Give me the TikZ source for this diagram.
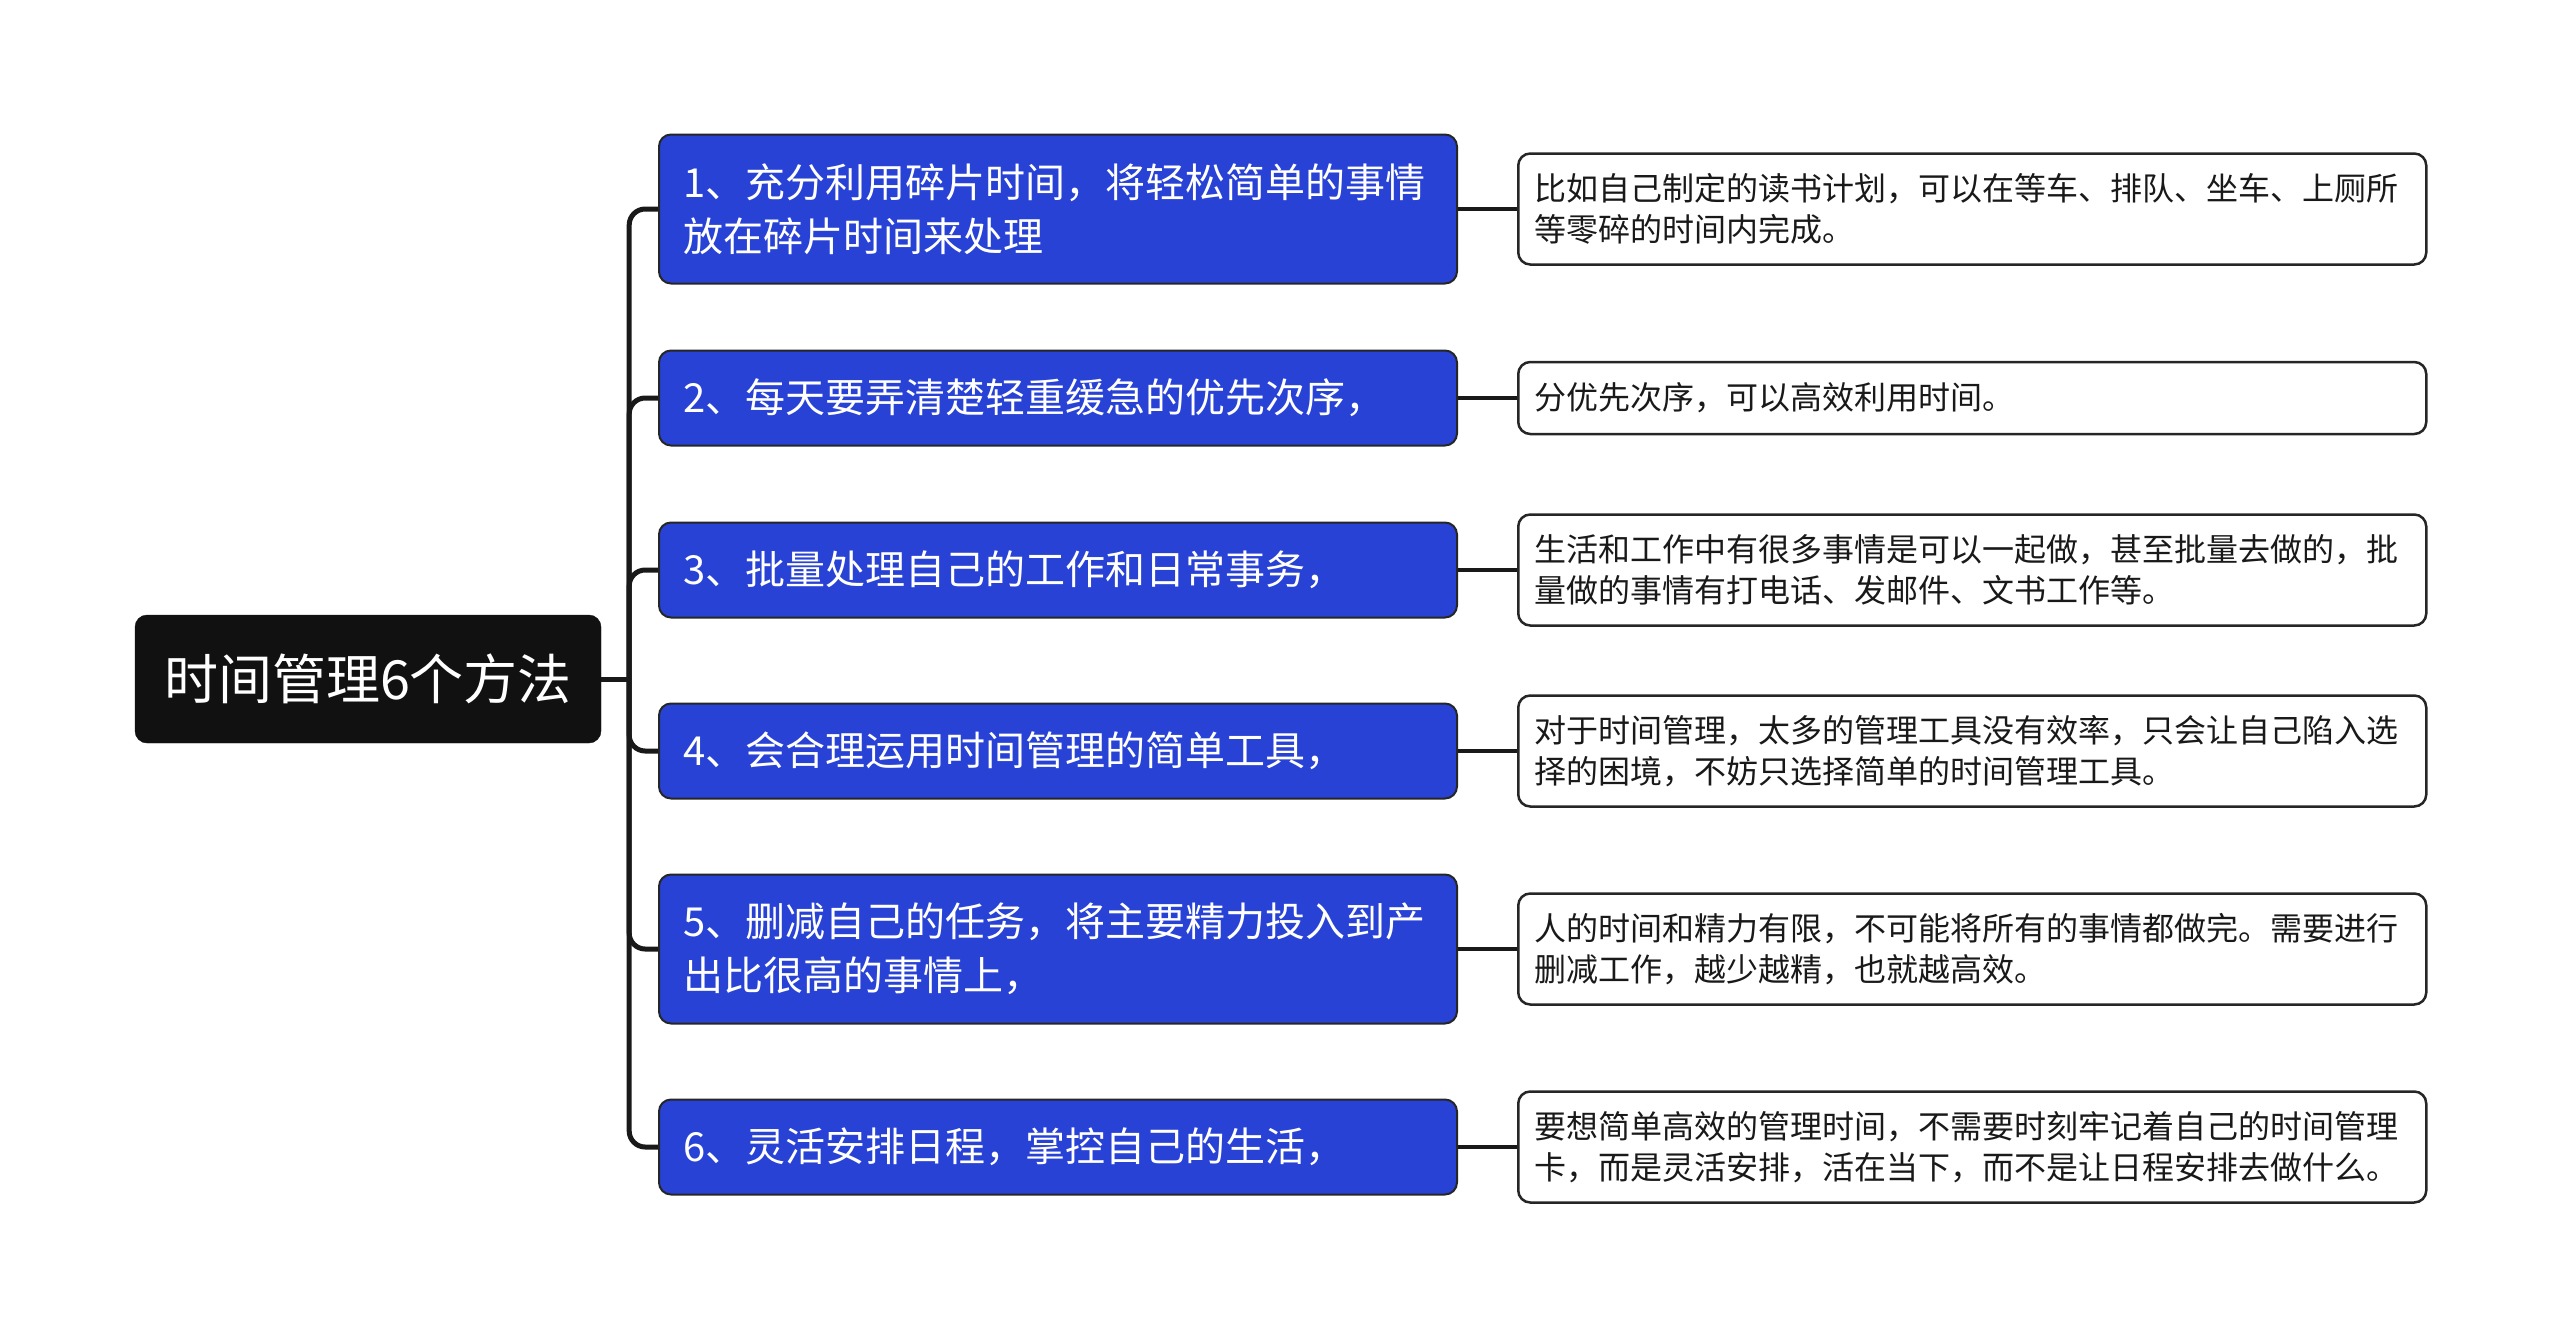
\documentclass[tikz,border=0pt]{standalone}
\usepackage{fontspec}
\newfontfamily\cjk{Noto Sans CJK SC}
\usetikzlibrary{positioning}
\definecolor{rootfill}{RGB}{17,17,17}
\definecolor{topicblue}{RGB}{40,66,214}
\tikzset{
  rootbox/.style={rectangle, rounded corners=12pt, fill=rootfill, draw=rootfill, text=white, minimum width=466pt, minimum height=128pt, font=\cjk\fontsize{54}{64}\selectfont},
  topic/.style={rectangle, rounded corners=12pt, fill=topicblue, draw=black!85, line width=2pt, text=white, anchor=west, minimum width=798pt, inner xsep=24pt, text width=750pt, align=left, font=\cjk\fontsize{40}{54}\selectfont},
  note/.style={rectangle, rounded corners=12pt, fill=white, draw=black!85, line width=2.5pt, text=black!90, anchor=west, minimum width=908pt, inner xsep=16pt, text width=876pt, align=left, font=\cjk\fontsize{32}{41}\selectfont},
  branch/.style={line width=5pt, black!90, rounded corners=16pt}
}

\begin{document}
\begin{tikzpicture}[x=1pt, y=-1pt]
        \useasboundingbox (0,0) rectangle (2560,1341);

        % 1. Nodo central
        \node[rootbox] (root) at (368,679) {时间管理6个方法};
        \coordinate[right=28pt of root] (hub);

        % 2. Ramas azules
        \foreach \i/\y/\h/\txt in {
            1/209/149/{1、充分利用碎片时间，将轻松简单的事情\\放在碎片时间来处理},
            2/398/95/{2、每天要弄清楚轻重缓急的优先次序，},
            3/570/95/{3、批量处理自己的工作和日常事务，},
            4/751/95/{4、会合理运用时间管理的简单工具，},
            5/949/149/{5、删减自己的任务，将主要精力投入到产\\出比很高的事情上，},
            6/1147/95/{6、灵活安排日程，掌控自己的生活，}
        } {
            \node[topic, minimum height=\h pt] (b\i) at (658,\y) {\txt};
        }

        % 3. Notas de detalle
        \foreach \i/\y/\h/\txt in {
            1/209/111/{比如自己制定的读书计划，可以在等车、排队、坐车、上厕所\\等零碎的时间内完成。},
            2/398/72/{分优先次序，可以高效利用时间。},
            3/570/111/{生活和工作中有很多事情是可以一起做，甚至批量去做的，批\\量做的事情有打电话、发邮件、文书工作等。},
            4/751/111/{对于时间管理，太多的管理工具没有效率，只会让自己陷入选\\择的困境，不妨只选择简单的时间管理工具。},
            5/949/111/{人的时间和精力有限，不可能将所有的事情都做完。需要进行\\删减工作，越少越精，也就越高效。},
            6/1147/111/{要想简单高效的管理时间，不需要时刻牢记着自己的时间管理\\卡，而是灵活安排，活在当下，而不是让日程安排去做什么。}
        } {
            \node[note, minimum height=\h pt] (d\i) at (1517,\y) {\txt};
        }

        % -------------------------------------------------------------
        % CONEXIONES
        % -------------------------------------------------------------
        \draw[branch] (root) -- (hub);
        \foreach \i in {1,...,6} {
            \draw[branch] (hub) |- (b\i.west);
            \draw[branch, line width=4pt] (b\i.east) -- (d\i.west);
        }

\end{tikzpicture}
\end{document}
